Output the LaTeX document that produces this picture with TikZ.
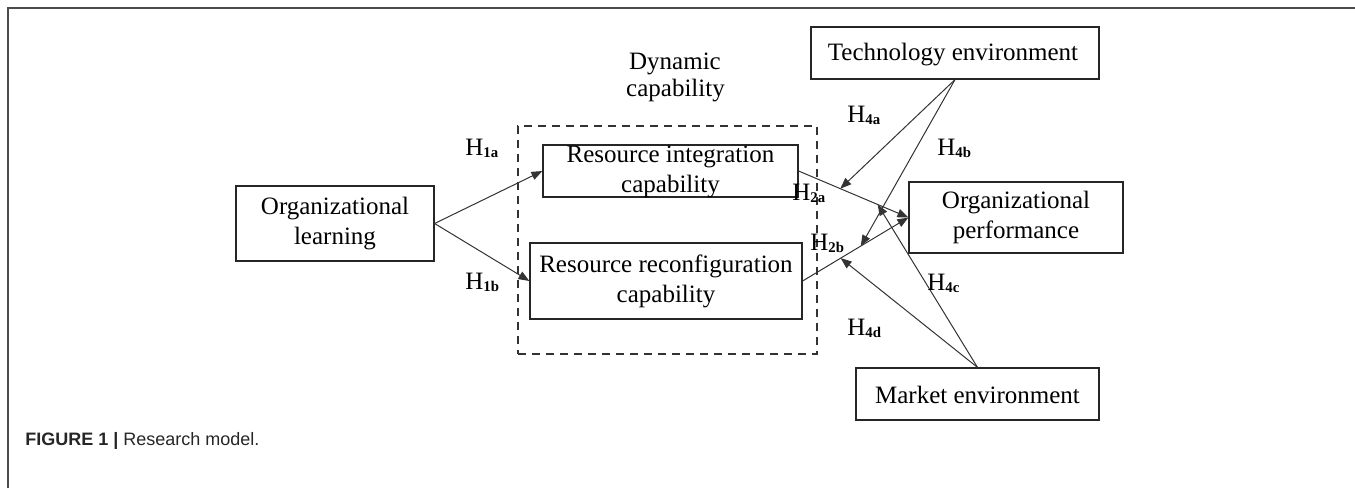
\documentclass[tikz,border=0pt]{standalone}
\usepackage{fontspec}
\setmainfont{Liberation Serif}
\newfontfamily\capfont{Liberation Sans}
\usetikzlibrary{arrows.meta}
\newcommand\hypl[1]{H\raisebox{-1.3pt}{\fontsize{7.4}{8}\selectfont\bfseries #1}}
\tikzset{
  box/.style={draw=black!85, line width=0.6pt, inner sep=0pt},
  txt/.style={font=\fontsize{12.5}{15}\selectfont, align=center, inner sep=0pt},
  hyp/.style={font=\fontsize{12.5}{15}\selectfont, inner sep=0pt, anchor=base west},
  arr/.style={draw=black!80, line width=0.5pt, -{Triangle[length=5.5pt,width=4.2pt]}},
  dbox/.style={draw=black!80, line width=0.6pt, dash pattern=on 4pt off 3pt, inner sep=0pt}
}
\begin{document}
\begin{tikzpicture}[x=0.5pt,y=-0.5pt]
\useasboundingbox (0,0) rectangle (1355,488);
% frame
\draw[black!70, line width=0.8pt] (8,488) -- (8,8) -- (1355,8);
% dashed group
\node[dbox, minimum width=149.5pt, minimum height=114pt] (dc) at (667.5,240) {};
\node[txt, anchor=base] (dyn1) at (675,69) {Dynamic};
\node[txt, anchor=base] (dyn2) at (675.5,96) {capability};
% boxes
\node[box, minimum width=99pt, minimum height=37.5pt] (ol) at (335,223.5) {};
\node[txt] at (ol) {Organizational\\learning};
\node[box, minimum width=127.5pt, minimum height=26pt] (ri) at (670.5,171) {};
\node[txt] at (670.5,172) {Resource integration\\capability};
\node[box, minimum width=136pt, minimum height=38pt] (rr) at (666,281) {};
\node[txt] at (rr) {Resource reconfiguration\\capability};
\node[box, minimum width=144pt, minimum height=26pt] (te) at (955,53) {};
\node[txt] at (953,55) {Technology environment};
\node[box, minimum width=107pt, minimum height=35.5pt] (op) at (1016,217.5) {};
\node[txt] at (op) {Organizational\\performance};
\node[box, minimum width=121.5pt, minimum height=26pt] (me) at (977.5,394) {};
\node[txt] at (977.5,395) {Market environment};
% arrows
\draw[arr] (ol.east) -- (ri.west);
\draw[arr] (ol.east) -- (rr.west);
\draw[arr] (ri.east) -- (op.west);
\draw[arr] (rr.east) -- (op.west);
\path (ri.east) -- (op.west) coordinate[pos=0.38] (a4a) coordinate[pos=0.72] (a4c);
\path (rr.east) -- (op.west) coordinate[pos=0.55] (a4b) coordinate[pos=0.36] (a4d);
\draw[arr] (te.south) -- (a4a);
\draw[arr] (te.south) -- (a4b);
\draw[arr] (me.north) -- (a4c);
\draw[arr] (me.north) -- (a4d);
% hypothesis labels
\node[hyp] (h1a) at (465,155) {\hypl{1a}};
\node[hyp] (h1b) at (465,289) {\hypl{1b}};
\node[hyp] (h2a) at (792,200) {\hypl{2a}};
\node[hyp] (h2b) at (810,250) {\hypl{2b}};
\node[hyp] (h4a) at (847,122) {\hypl{4a}};
\node[hyp] (h4b) at (937,155) {\hypl{4b}};
\node[hyp] (h4c) at (927,290) {\hypl{4c}};
\node[hyp] (h4d) at (847,335) {\hypl{4d}};
% caption
\node[anchor=base west, inner sep=0pt, font=\capfont\fontsize{9}{10}\selectfont, text=black!85] (cap) at (25,445) {\textbf{FIGURE 1 |} Research model.};
\end{tikzpicture}
\end{document}
